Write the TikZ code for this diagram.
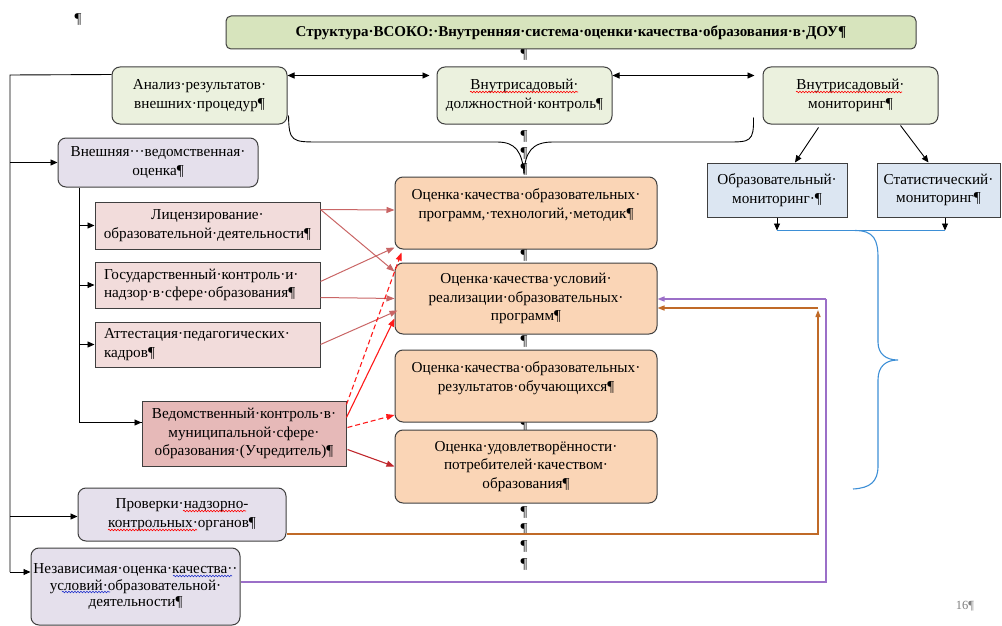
\documentclass[tikz,border=0pt]{standalone}
\usepackage{fontspec}
\setmainfont{Liberation Serif}
\usetikzlibrary{arrows.meta,calc,decorations.pathmorphing}
\definecolor{titlefill}{HTML}{D7E4BD}
\definecolor{greenfill}{HTML}{EBF1DE}
\definecolor{orangefill}{HTML}{FAD5B6}
\definecolor{bluefill}{HTML}{DCE6F2}
\definecolor{lavfill}{HTML}{E5E0EC}
\definecolor{pinkfill}{HTML}{F2DCDB}
\definecolor{rosefill}{HTML}{E6B9B8}
\definecolor{edgegray}{HTML}{3F3F3F}
\definecolor{pinkline}{HTML}{C96565}
\definecolor{brownline}{HTML}{C06A28}
\definecolor{purpleline}{HTML}{9B6FC8}
\definecolor{bluebrace}{HTML}{3D8FD6}
\definecolor{darkred}{HTML}{C0282D}
\definecolor{brightred}{HTML}{FF1A1A}
\definecolor{spellblue}{HTML}{2233CC}
\begin{document}
\begin{tikzpicture}[x=1pt,y=-1pt,
  font=\fontsize{15.2}{18.5}\selectfont,
  base/.style={draw=edgegray, line width=1pt, align=center, inner sep=2pt},
  rbox/.style={base, rounded corners=8pt},
  sbox/.style={base},
  wh/.style 2 args={minimum width=#1, minimum height=#2},
  tip/.style={-{Triangle[length=7pt,width=6pt]}},
  blk/.style={line width=0.9pt, black},
  pinkarr/.style={line width=1pt, pinkline, -{Triangle[length=8pt,width=6pt]}},
  redarr/.style={line width=1.1pt, brightred, -{Triangle[length=8pt,width=6pt]}},
  pil/.style={inner sep=0pt, font=\fontsize{15}{15}\selectfont},
  wavy/.style={line width=0.6pt, decorate, decoration={snake, segment length=3pt, amplitude=0.8pt}}
]
\useasboundingbox (0,0) rectangle (1002,626);

% pilcrow column (behind boxes)
\foreach \yy [count=\i] in {55,137,154,170,256,342,426,513,530,547,565}
  \node[pil] (pc\i) at (524,\yy) {¶};
\node[pil] (pmark) at (78,20) {¶};
\node[pil, text=gray, font=\fontsize{12.5}{12.5}\selectfont] (pagenum) at (965,606) {16¶};

% title
\node[rbox, fill=titlefill, wh={690pt}{33pt}, rounded corners=5pt, font=\fontsize{15}{18}\selectfont\bfseries] (T) at (571,32.5)
  {Структура·ВСОКО:·Внутренняя·система·оценки·качества·образования·в·ДОУ¶};

% row 1
\node[rbox, fill=greenfill, wh={175pt}{57pt}] (A) at (199.5,95.5) {Анализ·результатов·\\внешних·процедур¶};
\node[rbox, fill=greenfill, wh={175pt}{57pt}] (B) at (524.5,95.5) {Внутрисадовый·\\должностной·контроль¶};
\node[rbox, fill=greenfill, wh={175pt}{57pt}] (C) at (850.5,95.5) {Внутрисадовый·\\мониторинг¶};

% monitoring boxes
\node[sbox, fill=bluefill, wh={140pt}{54pt}] (M1) at (777,190) {Образовательный·\\мониторинг·¶};
\node[sbox, fill=bluefill, wh={123pt}{54pt}] (M2) at (938.5,190) {Статистический·\\мониторинг¶};

% orange boxes
\node[rbox, fill=orangefill, wh={262pt}{72pt}] (O1) at (526,213) {Оценка·качества·образовательных·\\программ,·технологий,·методик¶\\\mbox{}};
\node[rbox, fill=orangefill, wh={262pt}{71pt}] (O2) at (526,298.5) {Оценка·качества·условий·\\реализации·образовательных·\\программ¶};
\node[rbox, fill=orangefill, wh={262pt}{72pt}] (O3) at (526,386) {Оценка·качества·образовательных·\\результатов·обучающихся¶\\\mbox{}};
\node[rbox, fill=orangefill, wh={262pt}{73pt}] (O4) at (526,466.5) {Оценка·удовлетворённости·\\потребителей·качеством·\\образования¶};

% left boxes
\node[rbox, fill=lavfill, wh={200pt}{49pt}] (E) at (158,162.5) {Внешняя···ведомственная·\\оценка¶};
\node[sbox, fill=pinkfill, wh={225pt}{47pt}] (L1) at (207.5,225.5) {Лицензирование·\\образовательной·деятельности¶};
\node[sbox, fill=pinkfill, wh={225pt}{46pt}, align=left, text width=207pt] (L2) at (207.5,285) {Государственный·контроль·и·\\надзор·в·сфере·образования¶};
\node[sbox, fill=pinkfill, wh={225pt}{45pt}, align=left, text width=207pt] (L3) at (207.5,344.5) {Аттестация·педагогических·\\кадров¶};
\node[sbox, fill=rosefill, wh={204pt}{65pt}] (L4) at (244,433.5) {Ведомственный·контроль·в·\\муниципальной·сфере·\\образования·(Учредитель)¶};
\node[rbox, fill=lavfill, wh={208pt}{53pt}] (P) at (182,514.5) {Проверки·надзорно-\\контрольных·органов¶};
\node[rbox, fill=lavfill, wh={209pt}{77pt}, font=\fontsize{15.2}{16.5}\selectfont] (N) at (135.5,586.5) {Независимая·оценка·качества··\\условий·образовательной·\\деятельности¶};

% spell-check underlines as shown in the picture
\draw[wavy, red] (470,92) -- (578,92);
\draw[wavy, red] (796,92) -- (902,92);
\draw[wavy, red] (183,511) -- (246,511);
\draw[wavy, red] (108,530) -- (197,530);
\draw[wavy, spellblue] (173,576) -- (232,576);
\draw[wavy, spellblue] (62,592) -- (110,592);

% double arrows row 1
\draw[blk, {Triangle[length=7pt,width=6pt]}-{Triangle[length=7pt,width=6pt]}, shorten >=7pt]
  ($(A.north east)+(0,9)$) -- ($(B.north west)+(0,9)$);
\draw[blk, {Triangle[length=7pt,width=6pt]}-{Triangle[length=7pt,width=6pt]}, shorten >=8pt]
  ($(B.north east)+(0,9)$) -- ($(C.north west)+(0,9)$);

% brace under row 1
\coordinate (btip) at ($(O1.north)+(-2,-3)$);
\draw[blk] ($(A.south east)+(1,-9)$) .. controls (289,142) and (292,142) .. (320,142)
  -- (497,142) .. controls (516,142) and (522,152) .. (btip);
\draw[blk] ($(C.south west)+(-9,-7)$) .. controls (754,142) and (750,142) .. (727,142)
  -- (553,142) .. controls (532,142) and (525,152) .. (btip);

% monitoring arrows
\draw[blk, tip] ($(C.south)+(-32,3)$) -- ($(M1.north)+(18,0)$);
\draw[blk, tip] ($(C.south)+(50,1)$) -- ($(M2.north)+(-10,0)$);
\coordinate (mb1) at ($(M1.south)+(0,13)$);
\coordinate (m2s) at ($(M2.south)+(6.5,0)$);
\coordinate (mb2) at ($(m2s)+(0,13)$);
\draw[blk, tip] (M1.south) -- (mb1);
\draw[blk, tip] (m2s) -- (mb2);
\draw[bluebrace, line width=1.1pt] (mb1) -- (mb2);
\draw[bluebrace, line width=1.1pt] (855,230.5) .. controls (874,230.5) and (878,240) .. (878,258)
  -- (878,342) .. controls (878,354) and (886,360) .. (898,360)
  .. controls (886,360) and (878,366) .. (878,380)
  -- (878,466) .. controls (878,482) and (870,488) .. (853,489);

% left spine
\coordinate (sp0) at (10,75);
\coordinate (sp1) at (10,572);
\coordinate (pin) at ($(P.west)+(0,2)$);
\draw[blk] ($(A.north west)+(0,8)$) -- (sp0) -- (sp1);
\draw[blk, tip] (E.west -| sp0) -- (E.west);
\draw[blk, tip] (pin -| sp0) -- (pin);
\draw[blk, tip] (sp1) -- (sp1 -| N.west);

% sub spine from E
\coordinate (ss0) at (E.south -| 79,0);
\coordinate (ss1) at ($(L4.west)+(0,-11)$);
\draw[blk] (ss0) -- (ss0 |- ss1) -- (ss1);
\draw[blk, tip] (ss1 -| ss0) -- (ss1);
\draw[blk, tip] (L1.west -| ss0) -- (L1.west);
\draw[blk, tip] (L2.west -| ss0) -- (L2.west);
\draw[blk, tip] (L3.west -| ss0) -- (L3.west);

% pink arrows
\draw[pinkarr] ($(L1.north east)+(0,8)$) -- ($(O1.west)+(0,-3)$);
\draw[pinkarr] ($(L1.north east)+(0,8)$) -- ($(O2.north west)+(0,9)$);
\draw[pinkarr] ($(L2.north east)+(0,20)$) -- ($(O1.south west)+(0,-2)$);
\draw[pinkarr] ($(L2.north east)+(0,36)$) -- ($(O2.west)+(0,0)$);
\draw[pinkarr] (L3.east) -- ($(O2.west)+(3,12)$);

% red arrows
\draw[redarr, dashed, dash pattern=on 5pt off 3pt] ($(L4.north east)+(0,4)$) -- ($(O1.south west)+(7,3)$);
\draw[redarr] ($(L4.north east)+(0,17)$) -- ($(O2.west)+(0,20)$);
\draw[redarr, dashed, dash pattern=on 5pt off 3pt] ($(L4.north east)+(1,27)$) -- ($(O3.west)+(0,29)$);
\draw[redarr, darkred] ($(L4.north east)+(1,49)$) -- (O4.west);

% brown and purple feedback lines
\coordinate (br0) at ($(P.south east)+(0,-7.5)$);
\coordinate (brc) at (818,308);
\draw[brownline, line width=1.3pt, -{Triangle[length=7pt,width=5pt]}] (br0) -| ($(brc)+(0,2)$);
\draw[brownline, line width=1.3pt, -{Triangle[length=7pt,width=5pt]}] (brc) -- (brc -| O2.east);
\coordinate (pu0) at ($(N.east)+(0,-4.5)$);
\coordinate (puc) at (826,299);
\draw[purpleline, line width=1.3pt] (pu0) -| (puc);
\draw[purpleline, line width=1.3pt, -{Triangle[length=7pt,width=5pt]}] (puc) -- (puc -| O2.east);
\end{tikzpicture}
\end{document}
